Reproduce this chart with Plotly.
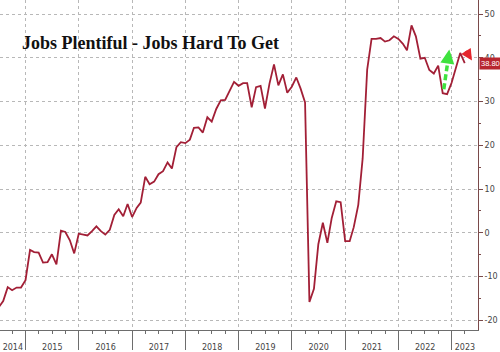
import pandas as pd
import plotly.graph_objects as go

# Monthly labour differential (Jobs Plentiful - Jobs Hard To Get), Jun 2014 .. Mar 2023
first_month_end = "2014-06-30"
differential = [
    -17.0, -15.6, -12.4, -13.1, -12.5, -12.5, -10.8,                      # 2014 Jun-Dec
    -3.9, -4.4, -4.5, -6.8, -6.7, -4.9, -7.2, 0.5, 0.2, -1.7, -4.7, -0.2,   # 2015
    -0.4, -0.6, 0.4, 1.5, 0.4, -0.4, 0.7, 4.1, 5.4, 3.8, 6.6, 3.6,          # 2016
    5.7, 6.9, 12.8, 11.1, 11.7, 13.4, 14.1, 16.1, 14.7, 19.6, 20.7, 20.5,   # 2017
    21.3, 24.0, 24.1, 22.9, 26.4, 25.4, 28.3, 30.3, 30.4, 32.4, 34.5, 33.6, # 2018
    34.2, 34.2, 28.7, 33.3, 33.6, 28.4, 34.1, 38.5, 33.7, 36.2, 32.0, 33.4, # 2019
    35.5, 33.0, 29.8, -15.8, -12.8, -2.6, 2.3, -2.3, 3.4, 7.2, 7.0, -1.9,   # 2020
    -1.9, 1.3, 6.4, 17.0, 37.3, 44.3, 44.3, 44.5, 43.7, 44.0, 44.9, 44.3,   # 2021
    43.2, 41.7, 47.4, 44.9, 39.8, 40.0, 37.2, 36.4, 38.2, 31.9, 31.7, 34.3, # 2022
    38.1, 41.1, 38.8,                                                       # 2023 Jan-Mar
]
last_label = "38.80"
year_labels = ["2014", "2015", "2016", "2017", "2018", "2019", "2020", "2021", "2022", "2023"]
y_ticks = [-20, -10, 0, 10, 20, 30, 40, 50]
title_text = "Jobs Plentiful - Jobs Hard To Get"

months = pd.date_range(first_month_end, periods=len(differential), freq=pd.offsets.MonthEnd())
x_range = [pd.Timestamp("2014-07-09"), pd.Timestamp("2023-06-30")]
y_range = [-22.2, 53.2]

year_starts = [pd.Timestamp(f"{y}-01-01") for y in year_labels]
year_bounds = [d for d in year_starts if x_range[0] < d < x_range[1]]
label_pos = []
for d in year_starts:
    s = max(d, x_range[0])
    e = min(d + pd.DateOffset(years=1), x_range[1])
    label_pos.append(s + (e - s) / 2)
quarters = [d for d in pd.date_range("2014-01-01", "2023-12-31", freq=pd.offsets.QuarterBegin(startingMonth=1))
            if x_range[0] < d < x_range[1]]

LINE = "#a21f36"
GRID = "#b8b8b8"
AXIS = "#6d6d6d"

fig = go.Figure()
fig.add_trace(go.Scatter(x=months, y=differential, mode="lines",
                         line=dict(color=LINE, width=1.8), showlegend=False, hoverinfo="skip"))
fig.add_trace(go.Scatter(x=[months[0]], y=[differential[0]], xaxis="x2", mode="markers",
                         marker=dict(opacity=0), showlegend=False, hoverinfo="skip"))

fig.update_layout(
    width=500, height=352,
    margin=dict(l=0, r=22, t=0, b=19),
    paper_bgcolor="white", plot_bgcolor="white",
    title=dict(text="<b>" + title_text + "</b>", x=22 / 500, xanchor="left",
               y=1 - 43 / 352, yanchor="middle",
               font=dict(family="Liberation Serif", size=18, color="#111111")),
    xaxis=dict(range=x_range, tickvals=year_bounds, showticklabels=False,
               ticks="outside", ticklen=19, tickwidth=1, tickcolor=AXIS,
               showgrid=True, gridcolor=GRID, griddash="dot", gridwidth=1,
               showline=True, linecolor=AXIS, linewidth=1, zeroline=False,
               minor=dict(tickvals=quarters, ticks="outside", ticklen=3, tickcolor=AXIS, showgrid=False)),
    xaxis2=dict(range=x_range, overlaying="x", anchor="y", side="bottom",
                tickvals=label_pos, ticktext=year_labels, ticks="outside", ticklen=9,
                tickcolor="rgba(0,0,0,0)", showgrid=False, showline=False, zeroline=False,
                tickfont=dict(family="DejaVu Sans", size=8, color="#444444")),
    yaxis=dict(range=y_range, side="right", tickvals=y_ticks, ticktext=[str(v) for v in y_ticks],
               ticks="outside", ticklen=4, tickcolor="#7a4a4a",
               showgrid=True, gridcolor=GRID, griddash="dot", gridwidth=1,
               showline=True, linecolor="#7a4a4a", linewidth=1, zeroline=False,
               tickfont=dict(family="DejaVu Sans", size=8, color="#444444"),
               minor=dict(dtick=5, tick0=0, ticks="outside", ticklen=2, tickcolor="#7a4a4a", showgrid=False)),
)

W, H = 478.0, 333.0
def px(x, y):
    return x / W, 1 - y / H

# green dashed up-arrow
gx0, gy0 = px(443.8, 90)
gx1, gy1 = px(447.8, 62)
fig.add_shape(type="line", xref="paper", yref="paper", x0=gx0, y0=gy0, x1=gx1, y1=gy1,
              line=dict(color="#3ee23e", width=3.5, dash="6px,3px"))
tx, ty = px(449.3, 50)
fig.add_annotation(xref="paper", yref="paper", x=tx, y=ty, ax=-2, ay=14, text="",
                   showarrow=True, arrowhead=2, arrowsize=0.8, arrowwidth=3.5, arrowcolor="#3ee23e")
# red down-arrow
rx, ry = px(472, 61)
fig.add_annotation(xref="paper", yref="paper", x=rx, y=ry, ax=-7, ay=-11, text="",
                   showarrow=True, arrowhead=2, arrowsize=0.75, arrowwidth=3, arrowcolor="#e5262d")

# last value label
fig.add_annotation(xref="paper", yref="y", x=1, y=differential[-1], xanchor="left", yanchor="middle",
                   xshift=1, text=last_label, showarrow=False, bgcolor="#b8262f", borderpad=1,
                   font=dict(family="Liberation Sans", size=7.5, color="white"))

fig.write_html("out.html")
